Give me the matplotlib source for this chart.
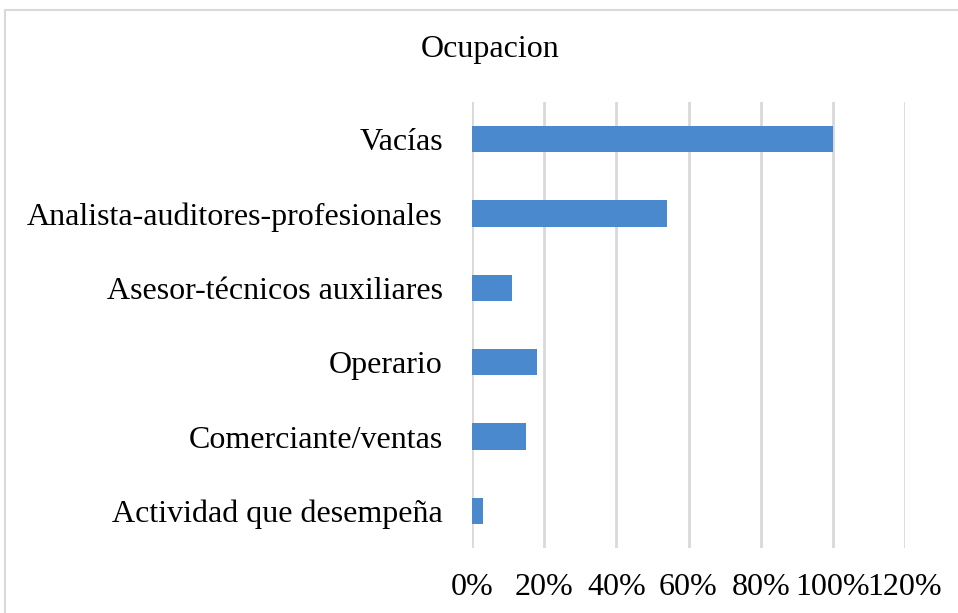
import matplotlib
matplotlib.use("Agg")
import matplotlib.pyplot as plt
from matplotlib.patches import Rectangle
from matplotlib.ticker import FuncFormatter

categories = ["Vacías", "Analista-auditores-profesionales", "Asesor-técnicos auxiliares",
              "Operario", "Comerciante/ventas", "Actividad que desempeña"]
values = [100, 54, 11, 18, 15, 3]
xticks = [0, 20, 40, 60, 80, 100, 120]

plt.rcParams['font.family'] = ['Liberation Serif', 'DejaVu Serif']

fig = plt.figure(figsize=(9.58, 6.13), dpi=100)
ax = fig.add_axes([472/958, 1-548/613, (905-472)/958, (548-102)/613])

ypos = list(range(len(categories)))
ax.barh(ypos, values, height=0.35, color="#4A89CD", zorder=3)
ax.set_yticks(ypos)
ax.set_yticklabels(categories, fontsize=23)
ax.set_ylim(len(categories)-0.5, -0.5)
ax.set_xlim(0, 120)
ax.set_xticks(xticks)
ax.xaxis.set_major_formatter(FuncFormatter(lambda v, p: f"{int(v)}%"))
ax.tick_params(axis='x', labelsize=23, length=0, pad=18)
ax.tick_params(axis='y', length=0, pad=21)
ax.grid(axis='x', color="#D9D9D9", linewidth=2, zorder=0)
for s in ax.spines.values():
    s.set_visible(False)

fig.text(490/958, 1-50/613, "Ocupacion", ha='center', va='center', fontsize=23)
fig.patches.append(Rectangle((5/958, -0.01), 1.0, 1-10/613 + 0.01, transform=fig.transFigure,
                             fill=False, edgecolor="#D9D9D9", linewidth=1.5))
fig.savefig("out.png", dpi=100)
